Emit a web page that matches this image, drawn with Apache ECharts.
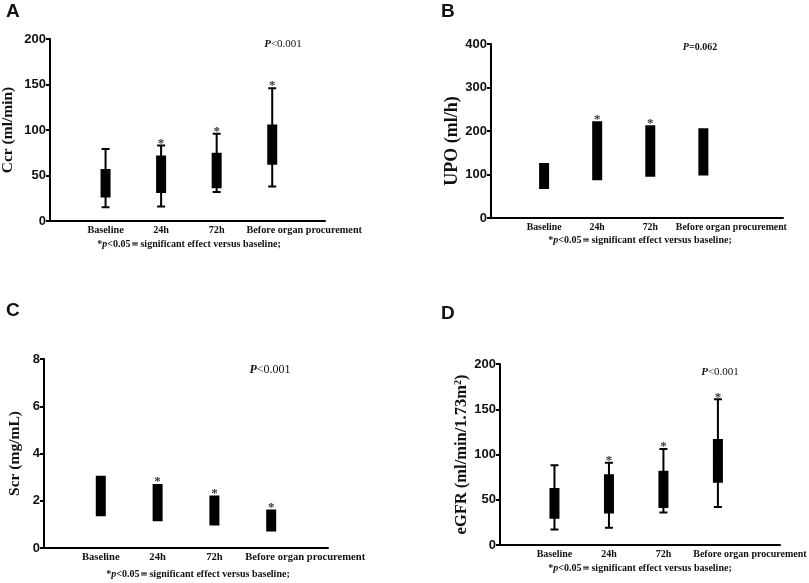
<!DOCTYPE html>
<html><head><meta charset="utf-8">
<script src="https://cdn.jsdelivr.net/npm/echarts@6/dist/echarts.min.js"></script>
<style>html,body{margin:0;padding:0;background:#fff}#c{width:809px;height:583px}</style>
</head><body><div id="c"></div>
<script>
// ---------- data ----------
const categories = ['Baseline', '24h', '72h', 'Before organ procurement'];
// [min, Q1, median, Q3, max]
const ccrBox  = [[15, 27, 40, 56, 79], [16, 32, 50, 71, 83], [32, 37, 52, 74, 96], [38, 63, 82, 105, 146]];
const ccrStars = [null, 88, 102, 152];
const upoBox  = [[69, 69, 95, 124, 124], [89, 89, 150, 220, 220], [97, 97, 150, 211, 211], [100, 100, 150, 204, 204]];
const upoStars = [null, 233, 223, null];
const scrBox  = [[1.39, 1.39, 2.2, 3.02, 3.02], [1.17, 1.17, 1.9, 2.67, 2.67], [1.0, 1.0, 1.6, 2.18, 2.18], [0.74, 0.74, 1.1, 1.59, 1.59]];
const scrStars = [null, 2.92, 2.41, 1.82];
const egfrBox = [[17, 30, 45, 62, 88], [19, 36, 55, 77, 91], [36, 42, 60, 81, 106], [42, 70, 92, 116, 161]];
const egfrStars = [null, 97, 112, 166];
const yTicksA = [0, 200, 50];
const yTicksB = [0, 400, 100];
const yTicksC = [0, 8, 2];
const yTicksD = [0, 200, 50];

// ---------- helpers ----------
const SERIF = '"Liberation Serif", "Times New Roman", serif';
const SANS = '"Liberation Sans", Arial, sans-serif';

function xAxisCfg(gi, max, fs, shift) {
  return {
    type: 'value', gridIndex: gi, min: 0, max: max, interval: 1,
    axisLine: { show: true, lineStyle: { color: '#000', width: 2 } },
    axisTick: { show: false }, splitLine: { show: false },
    axisLabel: {
      margin: 4, showMinLabel: true, showMaxLabel: true,
      formatter: function (v) {
        const i = Math.round(v);
        if (Math.abs(v - i) > 1e-6 || i < 1 || i > categories.length) return '';
        return i === categories.length ? '{b|' + categories[i - 1] + '}' : '{a|' + categories[i - 1] + '}';
      },
      rich: {
        a: { fontFamily: SERIF, fontWeight: 'bold', fontSize: fs, color: '#111' },
        b: { fontFamily: SERIF, fontWeight: 'bold', fontSize: fs, color: '#111', padding: [0, 0, 0, shift * 2] }
      }
    }
  };
}
function yAxisCfg(gi, ticks, name, gap, nfs, rich, pad) {
  return {
    type: 'value', gridIndex: gi, min: ticks[0], max: ticks[1], interval: ticks[2],
    name: name, nameLocation: 'middle', nameGap: gap,
    nameTextStyle: { fontFamily: SERIF, fontWeight: 'bold', fontSize: nfs, color: '#111', rich: rich || {}, padding: pad || 0 },
    axisLine: { show: true, lineStyle: { color: '#000', width: 2 } },
    axisTick: { show: true, length: 4, inside: false, lineStyle: { color: '#000', width: 2 } },
    splitLine: { show: false },
    axisLabel: { margin: 4, fontFamily: SANS, fontWeight: 'bold', fontSize: 13, color: '#111' }
  };
}
function boxSeries(gi, box) {
  return {
    type: 'boxplot', xAxisIndex: gi, yAxisIndex: gi,
    data: box.map(function (b, i) { return [i + 1].concat(b); }),
    boxWidth: [8, 8],
    itemStyle: { color: '#000', borderColor: '#000', borderWidth: 2 },
    emphasis: { disabled: true }, silent: true, animation: false
  };
}
function starSeries(gi, stars) {
  const d = [];
  stars.forEach(function (s, i) { if (s !== null) d.push([i + 1, s]); });
  return {
    type: 'scatter', xAxisIndex: gi, yAxisIndex: gi, data: d,
    symbolSize: 1, itemStyle: { color: 'rgba(0,0,0,0)' }, silent: true, animation: false,
    label: { show: true, position: 'inside', formatter: '*', offset: [0, 3],
      fontFamily: SERIF, fontWeight: 'bold', fontSize: 13, color: '#000' }
  };
}
function txt(x, y, text, font, align, rich) {
  return { type: 'text', x: x, y: y, silent: true,
    style: { text: text, font: font, fill: '#111', textAlign: align || 'center', textVerticalAlign: 'middle', rich: rich || {} } };
}
const noteRich = { bi: { fontFamily: SERIF, fontWeight: 'bold', fontStyle: 'italic', fontSize: 10, fill: '#111' } };
const note = '*{bi|p}<0.05＝significant effect versus baseline;';
function pRich(fs) { return { pi: { fontFamily: SERIF, fontWeight: 'bold', fontStyle: 'italic', fontSize: fs, fill: '#111' } }; }

const chart = echarts.init(document.getElementById('c'));
chart.setOption({
  backgroundColor: '#fff',
  animation: false,
  grid: [
    { left: 50, top: 39, width: 275, height: 182, outerBoundsMode: 'none' },
    { left: 491, top: 44, width: 292, height: 174, outerBoundsMode: 'none' },
    { left: 44, top: 359, width: 284, height: 189, outerBoundsMode: 'none' },
    { left: 500, top: 364, width: 280, height: 181, outerBoundsMode: 'none' }
  ],
  xAxis: [
    xAxisCfg(0, 4.95, 10.2, 32),
    xAxisCfg(1, 5.5, 9.8, 28),
    xAxisCfg(2, 5, 10.6, 34),
    xAxisCfg(3, 5.14, 10, 32)
  ],
  yAxis: [
    yAxisCfg(0, yTicksA, 'Ccr (ml/min)', 34, 15.5),
    yAxisCfg(1, yTicksB, 'UPO (ml/h)', 27, 18, null, [0, 20, 0, 0]),
    yAxisCfg(2, yTicksC, 'Scr (mg/mL)', 21, 15.5),
    yAxisCfg(3, yTicksD, 'eGFR (ml/min/1.73m{sup|2})', 24, 16.5,
      { sup: { fontFamily: SERIF, fontWeight: 'bold', fontSize: 10, verticalAlign: 'top', padding: [0, 0, 6, 0] } })
  ],
  series: [
    boxSeries(0, ccrBox), starSeries(0, ccrStars),
    boxSeries(1, upoBox), starSeries(1, upoStars),
    boxSeries(2, scrBox), starSeries(2, scrStars),
    boxSeries(3, egfrBox), starSeries(3, egfrStars)
  ],
  graphic: [
    txt(6, 12, 'A', 'bold 19px ' + SANS, 'left'),
    txt(441, 12, 'B', 'bold 19px ' + SANS, 'left'),
    txt(6, 311, 'C', 'bold 19px ' + SANS, 'left'),
    txt(441, 314, 'D', 'bold 19px ' + SANS, 'left'),
    txt(283, 44, '{pi|P}<0.001', '11px ' + SERIF, 'center', pRich(11)),
    txt(700, 47, '{pi|P}=0.062', 'bold 10px ' + SERIF, 'center', pRich(10)),
    txt(270, 370, '{pi|P}<0.001', '12px ' + SERIF, 'center', pRich(12)),
    txt(720, 372, '{pi|P}<0.001', '11px ' + SERIF, 'center', pRich(11)),
    txt(189, 244, note, 'bold 10px ' + SERIF, 'center', noteRich),
    txt(640, 240, note, 'bold 10px ' + SERIF, 'center', noteRich),
    txt(198, 574, note, 'bold 10px ' + SERIF, 'center', noteRich),
    txt(640, 568, note, 'bold 10px ' + SERIF, 'center', noteRich)
  ]
});
</script></body></html>
